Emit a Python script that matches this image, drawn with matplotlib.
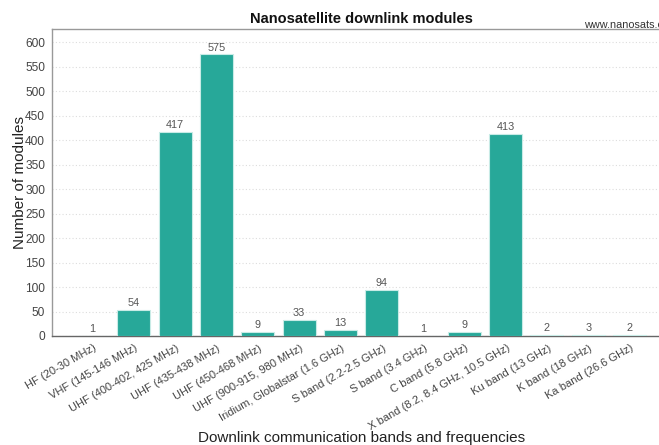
import matplotlib
matplotlib.use("Agg")
import matplotlib.pyplot as plt
from matplotlib.transforms import ScaledTranslation

plt.rcParams['font.family'] = ['Liberation Sans', 'DejaVu Sans']

# Downlink bands and module counts
bands = [
    "HF (20-30 MHz)",
    "VHF (145-146 MHz)",
    "UHF (400-402, 425 MHz)",
    "UHF (435-438 MHz)",
    "UHF (450-468 MHz)",
    "UHF (900-915, 980 MHz)",
    "Iridium, Globalstar (1.6 GHz)",
    "S band (2.2-2.5 GHz)",
    "S band (3.4 GHz)",
    "C band (5.8 GHz)",
    "X band (8.2, 8.4 GHz, 10.5 GHz)",
    "Ku band (13 GHz)",
    "K band (18 GHz)",
    "Ka band (26.6 GHz)",
]
modules = [1, 54, 417, 575, 9, 33, 13, 94, 1, 9, 413, 2, 3, 2]
y_ticks = list(range(0, 601, 50))

BAR_COLOR = "#27a899"
TEXT_GRAY = "#444444"

fig = plt.figure(figsize=(6.59, 4.45), dpi=100)
# axes run a little past the right edge of the canvas
ax = fig.add_axes([52 / 659, 1 - 336 / 445, 618 / 659, 307 / 445])

x = list(range(len(bands)))
bars = ax.bar(x, modules, width=0.8, color=BAR_COLOR, edgecolor="#c8ebe6",
              linewidth=0.8, zorder=3)

for rect, val in zip(bars, modules):
    ax.text(rect.get_x() + rect.get_width() / 2, val + 4, str(val),
            ha="center", va="bottom", fontsize=7.8, color="#555555")

ax.set_xlim(-0.98, len(bands) - 0.02)
ax.set_ylim(0, 627)
ax.set_yticks(y_ticks)
# slanted labels end slightly right of each bar centre
ax.set_xticks([i + 0.14 for i in x])
ax.set_xticklabels(bands, rotation=30, ha="right", fontsize=8, color=TEXT_GRAY)
ax.tick_params(axis="y", labelsize=8.6, colors=TEXT_GRAY, length=0, pad=5)
ax.tick_params(axis="x", length=0, pad=5)

ax.yaxis.grid(True, linestyle=(0, (1, 2)), color="#dddddd", linewidth=0.8, zorder=0)
ax.set_axisbelow(True)

for side in ("left", "top"):
    ax.spines[side].set_color("#999999")
    ax.spines[side].set_linewidth(1.0)
ax.spines["bottom"].set_color("#666666")
ax.spines["bottom"].set_linewidth(1.0)
ax.spines["right"].set_visible(False)

ax.set_title("Nanosatellite downlink modules", fontsize=10.5, fontweight="bold",
             color="#111111", pad=4)
ax.text(1.0, 0.0, "www.nanosats.eu",
        transform=ax.transAxes + ScaledTranslation(0, 306 / 100, fig.dpi_scale_trans),
        ha="right", va="bottom", fontsize=7.8, color="#333333")
ax.set_ylabel("Number of modules", fontsize=11, color="#222222")
ax.yaxis.set_label_coords(-25 / 618, 0.5)
fig.text(0.548, 0.0, "Downlink communication bands and frequencies",
         ha="center", va="bottom", fontsize=11, color="#222222")

fig.savefig("out.png", dpi=100)
